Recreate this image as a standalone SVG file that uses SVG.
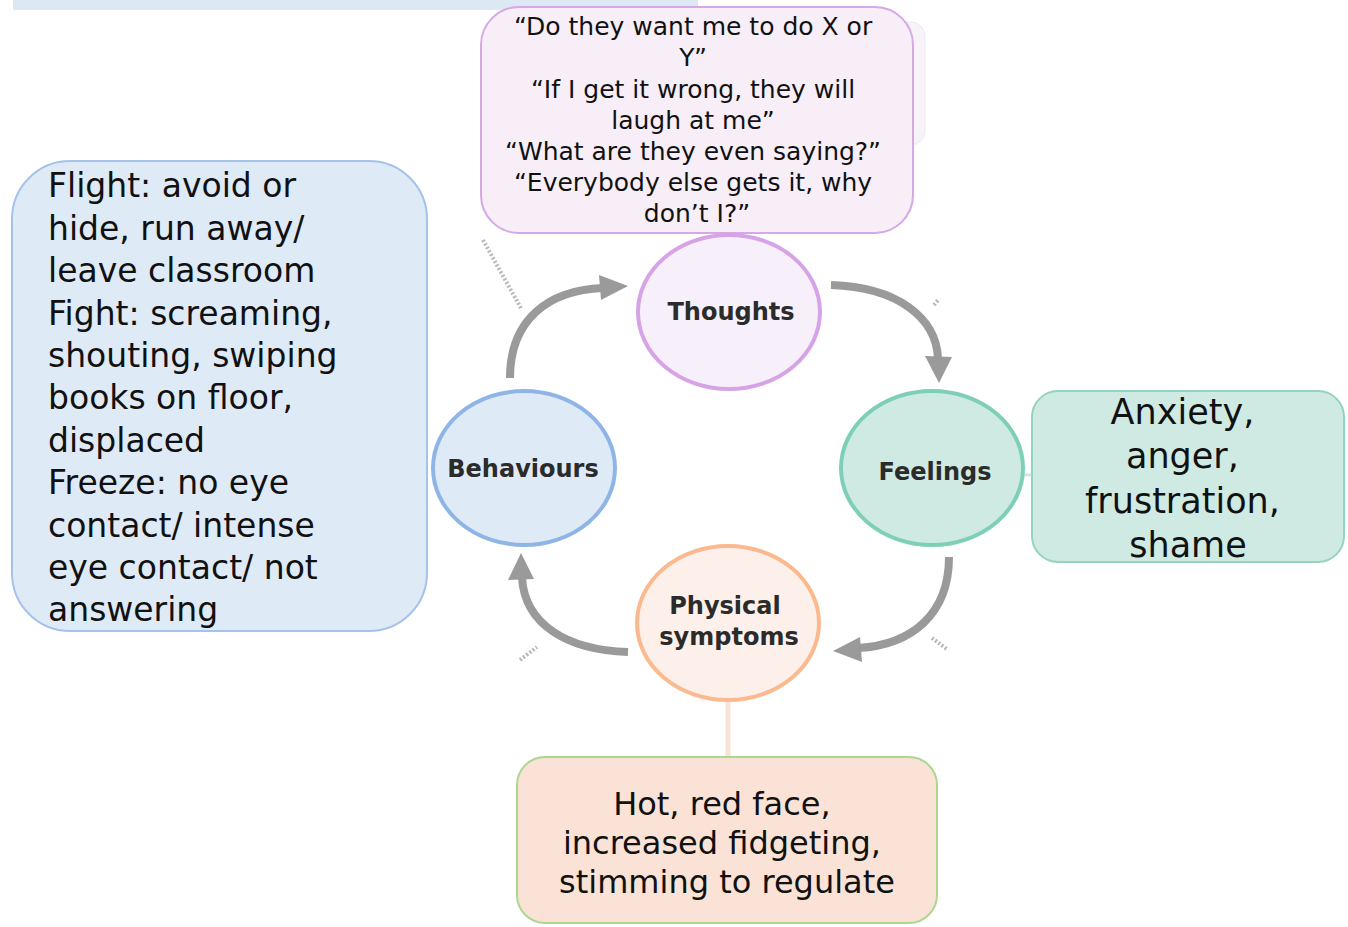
<svg xmlns="http://www.w3.org/2000/svg" width="1348" height="927" viewBox="0 0 1348 927">
<style>
.box{font-family:"DejaVu Sans",sans-serif;fill:#111}
.lbl{font-family:"DejaVu Sans",sans-serif;font-weight:bold;font-size:24px;fill:#2b2b2b;text-anchor:middle}
.arr{fill:none;stroke:#9a9a9a;stroke-width:8}
.head{fill:#9a9a9a}
.dot{fill:none;stroke:#b8b8b8;stroke-width:4;stroke-dasharray:2 2}
</style>
<rect x="0" y="0" width="1348" height="927" fill="#ffffff"/>
<rect x="13" y="0" width="685" height="10" fill="#dde8f5"/>
<rect x="600" y="22" width="325" height="123" rx="14" fill="#f8f2f9" stroke="#ececec" stroke-width="1"/>

<g id="connectors">
  <path class="dot" d="M483,240 L522,310"/>
  <path class="dot" d="M520,660 L537,647"/>
  <path class="dot" d="M932,638 L948,650"/>
  <path class="dot" d="M934,305 L938,300"/>
  <line x1="1024" y1="475" x2="1032" y2="475" stroke="#cfeae3" stroke-width="3"/>
  <line x1="728" y1="702" x2="728" y2="757" stroke="#f9e3d6" stroke-width="5"/>
  <path class="arr" d="M510,378 C510,320 548,290 603,288"/>
  <polygon class="head" points="628,286 599,275 601,300"/>
  <path class="arr" d="M831,285 C898,287 936,318 938,358"/>
  <polygon class="head" points="939,383 925,356 952,357"/>
  <path class="arr" d="M949,557 C949,614 912,645 858,648"/>
  <polygon class="head" points="833,651 860,637 862,662"/>
  <path class="arr" d="M628,652 C566,650 525,624 522,578"/>
  <polygon class="head" points="521,553 508,580 534,579"/>
</g>

<g id="behaviour-details">
  <rect x="12" y="161" width="415" height="470" rx="58" fill="#dfeaf7" stroke="#a4c2ea" stroke-width="2"/>
  <text class="box" font-size="33" x="48">
    <tspan x="48" y="197">Flight: avoid or</tspan>
    <tspan x="48" y="239.5">hide, run away/</tspan>
    <tspan x="48" y="282">leave classroom</tspan>
    <tspan x="48" y="324.5">Fight: screaming,</tspan>
    <tspan x="48" y="367">shouting, swiping</tspan>
    <tspan x="48" y="409">books on floor,</tspan>
    <tspan x="48" y="451.5">displaced</tspan>
    <tspan x="48" y="494">Freeze: no eye</tspan>
    <tspan x="48" y="536.5">contact/ intense</tspan>
    <tspan x="48" y="579">eye contact/ not</tspan>
    <tspan x="48" y="621">answering</tspan>
  </text>
</g>

<g id="thought-details">
  <rect x="481" y="7" width="432" height="226" rx="38" fill="#f7eef8" stroke="#d6a8e6" stroke-width="2"/>
  <text class="box" font-size="25" text-anchor="middle">
    <tspan x="697" y="35">“Do they want me to do X or</tspan>
    <tspan x="697" y="66">Y”</tspan>
    <tspan x="697" y="98">“If I get it wrong, they will</tspan>
    <tspan x="697" y="129">laugh at me”</tspan>
    <tspan x="697" y="160">“What are they even saying?”</tspan>
    <tspan x="697" y="191">“Everybody else gets it, why</tspan>
    <tspan x="697" y="222">don’t I?”</tspan>
  </text>
</g>

<g id="feeling-details">
  <rect x="1032" y="391" width="312" height="171" rx="26" fill="#cfeae3" stroke="#93d3c0" stroke-width="2"/>
  <text class="box" font-size="35" text-anchor="middle">
    <tspan x="1188" y="424">Anxiety,</tspan>
    <tspan x="1188" y="468">anger,</tspan>
    <tspan x="1188" y="513">frustration,</tspan>
    <tspan x="1188" y="557">shame</tspan>
  </text>
</g>

<g id="physical-details">
  <rect x="517" y="757" width="420" height="166" rx="28" fill="#fae3d6" stroke="#afd690" stroke-width="2"/>
  <text class="box" font-size="32" text-anchor="middle">
    <tspan x="727" y="815">Hot, red face,</tspan>
    <tspan x="727" y="854">increased fidgeting,</tspan>
    <tspan x="727" y="893">stimming to regulate</tspan>
  </text>
</g>

<g id="thoughts">
  <ellipse cx="729" cy="312" rx="91" ry="77" fill="#f7eff9" stroke="#d6a4e6" stroke-width="4"/>
  <text class="lbl" x="731" y="320">Thoughts</text>
</g>
<g id="feelings">
  <ellipse cx="932" cy="468" rx="91" ry="77" fill="#cfeae3" stroke="#7ecfb8" stroke-width="4"/>
  <text class="lbl" x="935" y="480">Feelings</text>
</g>
<g id="physical">
  <ellipse cx="728" cy="623" rx="91" ry="77" fill="#fdf0ea" stroke="#fbb98f" stroke-width="4"/>
  <text class="lbl" x="725" y="614">Physical</text>
  <text class="lbl" x="729" y="645">symptoms</text>
</g>
<g id="behaviours">
  <ellipse cx="524" cy="468" rx="91" ry="77" fill="#dfeaf7" stroke="#8fb5e6" stroke-width="4"/>
  <text class="lbl" x="523" y="477">Behaviours</text>
</g>
</svg>
